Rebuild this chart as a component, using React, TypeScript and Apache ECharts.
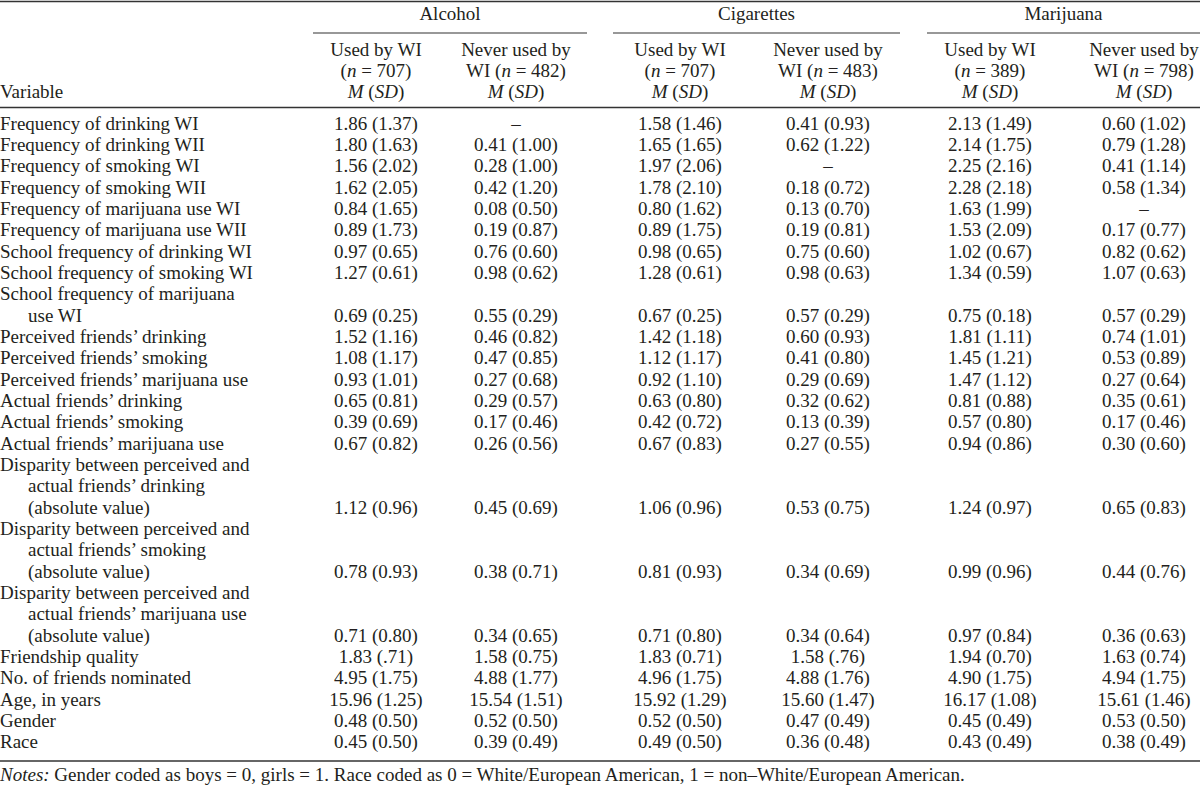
import React, { useEffect, useRef } from "react";
import * as echarts from "echarts";

const groupNames = ["Alcohol", "Cigarettes", "Marijuana"];
const subHeadLine1 = ["Used by WI", "Never used by", "Used by WI", "Never used by", "Used by WI", "Never used by"];
const subHeadLine2 = ["({i|n} = 707)", "WI ({i|n} = 482)", "({i|n} = 707)", "WI ({i|n} = 483)", "({i|n} = 389)", "WI ({i|n} = 798)"];
const subHeadLine3 = "{i|M} ({i|SD})";

const rowLabels: string[][] = [
  ["Frequency of drinking WI"],
  ["Frequency of drinking WII"],
  ["Frequency of smoking WI"],
  ["Frequency of smoking WII"],
  ["Frequency of marijuana use WI"],
  ["Frequency of marijuana use WII"],
  ["School frequency of drinking WI"],
  ["School frequency of smoking WI"],
  ["School frequency of marijuana", "use WI"],
  ["Perceived friends\u2019 drinking"],
  ["Perceived friends\u2019 smoking"],
  ["Perceived friends\u2019 marijuana use"],
  ["Actual friends\u2019 drinking"],
  ["Actual friends\u2019 smoking"],
  ["Actual friends\u2019 marijuana use"],
  ["Disparity between perceived and", "actual friends\u2019 drinking", "(absolute value)"],
  ["Disparity between perceived and", "actual friends\u2019 smoking", "(absolute value)"],
  ["Disparity between perceived and", "actual friends\u2019 marijuana use", "(absolute value)"],
  ["Friendship quality"],
  ["No. of friends nominated"],
  ["Age, in years"],
  ["Gender"],
  ["Race"],
];

const alcoholUsed = ["1.86 (1.37)", "1.80 (1.63)", "1.56 (2.02)", "1.62 (2.05)", "0.84 (1.65)", "0.89 (1.73)", "0.97 (0.65)", "1.27 (0.61)", "0.69 (0.25)", "1.52 (1.16)", "1.08 (1.17)", "0.93 (1.01)", "0.65 (0.81)", "0.39 (0.69)", "0.67 (0.82)", "1.12 (0.96)", "0.78 (0.93)", "0.71 (0.80)", "1.83 (.71)", "4.95 (1.75)", "15.96 (1.25)", "0.48 (0.50)", "0.45 (0.50)"];
const alcoholNever = ["\u2013", "0.41 (1.00)", "0.28 (1.00)", "0.42 (1.20)", "0.08 (0.50)", "0.19 (0.87)", "0.76 (0.60)", "0.98 (0.62)", "0.55 (0.29)", "0.46 (0.82)", "0.47 (0.85)", "0.27 (0.68)", "0.29 (0.57)", "0.17 (0.46)", "0.26 (0.56)", "0.45 (0.69)", "0.38 (0.71)", "0.34 (0.65)", "1.58 (0.75)", "4.88 (1.77)", "15.54 (1.51)", "0.52 (0.50)", "0.39 (0.49)"];
const cigarettesUsed = ["1.58 (1.46)", "1.65 (1.65)", "1.97 (2.06)", "1.78 (2.10)", "0.80 (1.62)", "0.89 (1.75)", "0.98 (0.65)", "1.28 (0.61)", "0.67 (0.25)", "1.42 (1.18)", "1.12 (1.17)", "0.92 (1.10)", "0.63 (0.80)", "0.42 (0.72)", "0.67 (0.83)", "1.06 (0.96)", "0.81 (0.93)", "0.71 (0.80)", "1.83 (0.71)", "4.96 (1.75)", "15.92 (1.29)", "0.52 (0.50)", "0.49 (0.50)"];
const cigarettesNever = ["0.41 (0.93)", "0.62 (1.22)", "\u2013", "0.18 (0.72)", "0.13 (0.70)", "0.19 (0.81)", "0.75 (0.60)", "0.98 (0.63)", "0.57 (0.29)", "0.60 (0.93)", "0.41 (0.80)", "0.29 (0.69)", "0.32 (0.62)", "0.13 (0.39)", "0.27 (0.55)", "0.53 (0.75)", "0.34 (0.69)", "0.34 (0.64)", "1.58 (.76)", "4.88 (1.76)", "15.60 (1.47)", "0.47 (0.49)", "0.36 (0.48)"];
const marijuanaUsed = ["2.13 (1.49)", "2.14 (1.75)", "2.25 (2.16)", "2.28 (2.18)", "1.63 (1.99)", "1.53 (2.09)", "1.02 (0.67)", "1.34 (0.59)", "0.75 (0.18)", "1.81 (1.11)", "1.45 (1.21)", "1.47 (1.12)", "0.81 (0.88)", "0.57 (0.80)", "0.94 (0.86)", "1.24 (0.97)", "0.99 (0.96)", "0.97 (0.84)", "1.94 (0.70)", "4.90 (1.75)", "16.17 (1.08)", "0.45 (0.49)", "0.43 (0.49)"];
const marijuanaNever = ["0.60 (1.02)", "0.79 (1.28)", "0.41 (1.14)", "0.58 (1.34)", "\u2013", "0.17 (0.77)", "0.82 (0.62)", "1.07 (0.63)", "0.57 (0.29)", "0.74 (1.01)", "0.53 (0.89)", "0.27 (0.64)", "0.35 (0.61)", "0.17 (0.46)", "0.30 (0.60)", "0.65 (0.83)", "0.44 (0.76)", "0.36 (0.63)", "1.63 (0.74)", "4.94 (1.75)", "15.61 (1.46)", "0.53 (0.50)", "0.38 (0.49)"];

const notesText = "{i|Notes:} Gender coded as boys = 0, girls = 1. Race coded as 0 = White/European American, 1 = non\u2013White/European American.";

export default function App() {
  const ref = useRef<HTMLDivElement>(null);
  useEffect(() => {
    if (!ref.current) return;
    const chart = echarts.init(ref.current, null, { renderer: "svg" });
    const FONT = "Liberation Serif";
    const FS = 19;
    const COLOR = "#231f20";
    const colX = [376, 516, 680, 828, 990, 1144];
    const groupSpans = [[313, 587], [613, 900], [927, 1200]];
    const columns = [alcoholUsed, alcoholNever, cigarettesUsed, cigarettesNever, marijuanaUsed, marijuanaNever];
    const rowStep = 21.34;
    const firstRowY = 123;
    const indent = 28;
    const rich = { i: { fontStyle: "italic", fontFamily: FONT, fontSize: FS, fill: COLOR } };

    const txt = (text: string, x: number, y: number, align: string, withRich = false): any => ({
      type: "text",
      x,
      y,
      silent: true,
      style: {
        text,
        fill: COLOR,
        fontFamily: FONT,
        fontSize: FS,
        align,
        textAlign: align,
        verticalAlign: "middle",
        textVerticalAlign: "middle",
        ...(withRich ? { rich } : {}),
      },
    });
    const line = (x1: number, y1: number, x2: number, y2: number, w: number): any => ({
      type: "line",
      silent: true,
      shape: { x1, y1, x2, y2 },
      style: { stroke: "#333", lineWidth: w },
    });

    const els: any[] = [];
    els.push(line(0, 1.5, 1200, 1.5, 1.5));
    groupNames.forEach((g, i) => {
      const [a, b] = groupSpans[i];
      els.push(txt(g, (a + b) / 2, 13, "center"));
      els.push(line(a, 33, b, 33, 1.2));
    });
    colX.forEach((x, i) => {
      els.push(txt(subHeadLine1[i], x, 49, "center"));
      els.push(txt(subHeadLine2[i], x, 70, "center", true));
      els.push(txt(subHeadLine3, x, 91, "center", true));
    });
    els.push(txt("Variable", 0, 91, "left"));
    els.push(line(0, 107.5, 1200, 107.5, 1.5));

    let lineIdx = 0;
    rowLabels.forEach((lbl, r) => {
      lbl.forEach((t, k) => {
        const y = firstRowY + (lineIdx + k) * rowStep;
        els.push(txt(t, k === 0 ? 0 : indent, y, "left"));
      });
      const vy = firstRowY + (lineIdx + lbl.length - 1) * rowStep;
      columns.forEach((col, c) => {
        els.push(txt(col[r], colX[c], vy, "center"));
      });
      lineIdx += lbl.length;
    });
    els.push(line(0, 761, 1200, 761, 1.5));
    els.push(txt(notesText, 0, 774, "left", true));

    chart.setOption({
      animation: false,
      backgroundColor: "#ffffff",
      graphic: { elements: els },
    });
    return () => chart.dispose();
  }, []);
  return (
    <div
      ref={ref}
      style={{ position: "fixed", left: 0, top: 0, width: 1200, height: 787 }}
    />
  );
}
